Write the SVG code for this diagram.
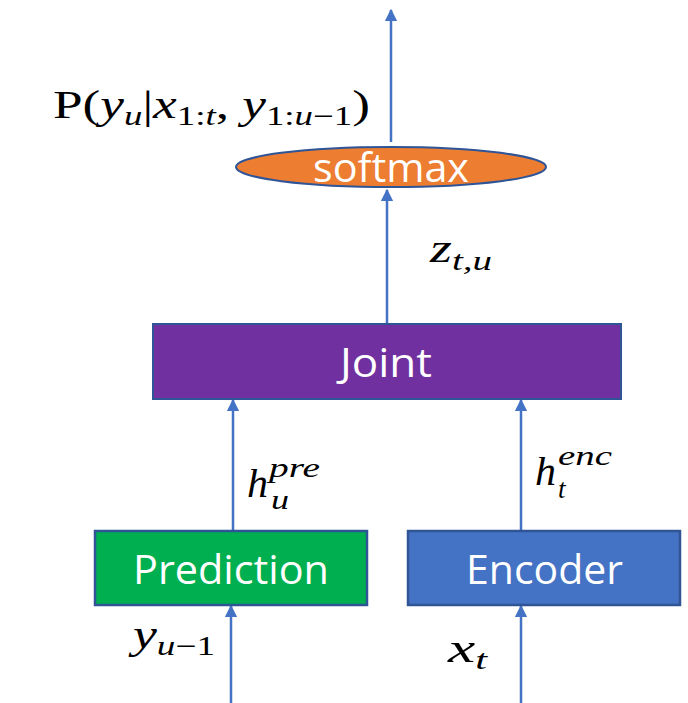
<svg xmlns="http://www.w3.org/2000/svg" width="688" height="703" viewBox="0 0 688 703">
<style>
.lbl{font-family:"Open Sans","Noto Sans",sans-serif;fill:#ffffff;text-anchor:middle;font-size:40px}
.m{font-family:"Liberation Serif","DejaVu Serif",serif;font-style:italic;fill:#000;font-size:39px}
.s{font-size:27px}
.n{font-style:normal}
.edge{stroke:#4472C4;stroke-width:2.5;fill:none;marker-end:url(#ah)}
</style>
<defs>
<marker id="ah" viewBox="0 0 10 10" refX="9" refY="5" markerWidth="5" markerHeight="5.5" orient="auto" markerUnits="strokeWidth">
<path d="M0,0 L10,5 L0,10 Z" fill="#4472C4"/>
</marker>
</defs>
<rect width="688" height="703" fill="#ffffff"/>
<g id="connectors">
<line class="edge" x1="391" y1="142" x2="391" y2="10"/>
<line class="edge" x1="387" y1="324" x2="387" y2="190"/>
<line class="edge" x1="233" y1="531" x2="233" y2="400"/>
<line class="edge" x1="521" y1="531" x2="521" y2="400"/>
<line class="edge" x1="231" y1="703" x2="231" y2="606"/>
<line class="edge" x1="521" y1="703" x2="521" y2="606"/>
</g>
<g id="softmax">
<ellipse cx="391" cy="167" rx="155" ry="20" fill="#ED7D31" stroke="#2F5597" stroke-width="2"/>
<text class="lbl" x="391" y="182" textLength="156" lengthAdjust="spacingAndGlyphs">softmax</text>
</g>
<g id="joint">
<rect x="153" y="324" width="468" height="75" fill="#7030A0" stroke="#2F5597" stroke-width="2"/>
<text class="lbl" x="386" y="377" textLength="92" lengthAdjust="spacingAndGlyphs">Joint</text>
</g>
<g id="prediction">
<rect x="95" y="531" width="272" height="74" fill="#00B050" stroke="#2F5597" stroke-width="2.5"/>
<text class="lbl" x="231" y="584" textLength="196" lengthAdjust="spacingAndGlyphs">Prediction</text>
</g>
<g id="encoder">
<rect x="408" y="531" width="272" height="74" fill="#4472C4" stroke="#2F5597" stroke-width="2.5"/>
<text class="lbl" x="544.5" y="584" textLength="157" lengthAdjust="spacingAndGlyphs">Encoder</text>
</g>
<g id="labels">
<text class="m" x="53" y="118" textLength="317" lengthAdjust="spacingAndGlyphs"><tspan class="n">P(</tspan>y<tspan class="s" dy="7">u</tspan><tspan class="n" dy="-7">|</tspan>x<tspan class="s" dy="7"><tspan class="n">1:</tspan>t</tspan><tspan class="n" dy="-7">, </tspan>y<tspan class="s" dy="7"><tspan class="n">1:</tspan>u<tspan class="n">−1</tspan></tspan><tspan class="n" dy="-7">)</tspan></text>
<text class="m" x="430" y="262" textLength="62" lengthAdjust="spacingAndGlyphs">z<tspan class="s" dy="8">t,u</tspan></text>
<text class="m" x="247" y="497" textLength="21" lengthAdjust="spacingAndGlyphs">h</text>
<text class="m s" x="269" y="477" textLength="51" lengthAdjust="spacingAndGlyphs">pre</text>
<text class="m s" x="271" y="509" textLength="18" lengthAdjust="spacingAndGlyphs">u</text>
<text class="m" x="535" y="485" textLength="21" lengthAdjust="spacingAndGlyphs">h</text>
<text class="m s" x="558" y="465" textLength="54" lengthAdjust="spacingAndGlyphs">enc</text>
<text class="m s" x="558" y="498">t</text>
<text class="m" x="133" y="648" textLength="82" lengthAdjust="spacingAndGlyphs">y<tspan class="s" dy="7">u<tspan class="n">−1</tspan></tspan></text>
<text class="m" x="448" y="662" textLength="39" lengthAdjust="spacingAndGlyphs">x<tspan class="s" dy="7">t</tspan></text>
</g>
</svg>
